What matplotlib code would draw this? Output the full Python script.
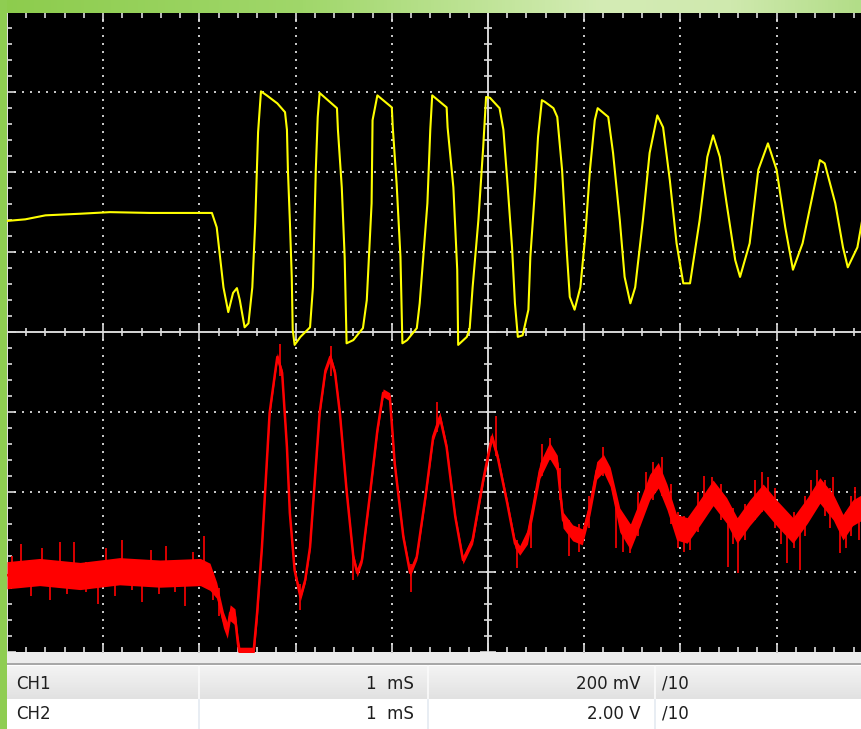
import numpy as np
import matplotlib
matplotlib.use("Agg")
import matplotlib.pyplot as plt
from matplotlib.colors import LinearSegmentedColormap
from matplotlib.collections import LineCollection
from matplotlib.patches import Rectangle

# time in ms (1 ms/div), amplitude in screen divisions (0 = centre line)
ch1_t = [0.00, 0.19, 0.40, 0.76, 1.07, 1.49, 2.13, 2.18, 2.21, 2.25, 2.30, 2.35, 2.39, 2.42,
         2.47, 2.51, 2.55, 2.58, 2.61, 2.64, 2.70, 2.81, 2.89, 2.91, 2.92, 2.94, 2.96, 2.97,
         2.99, 3.05, 3.15, 3.18, 3.21, 3.23, 3.25, 3.43, 3.44, 3.48, 3.51, 3.53, 3.60, 3.70,
         3.74, 3.79, 3.80, 3.85, 4.00, 4.01, 4.05, 4.09, 4.11, 4.16, 4.26, 4.29, 4.37, 4.40,
         4.42, 4.57, 4.58, 4.64, 4.68, 4.69, 4.78, 4.81, 4.84, 4.90, 4.95, 4.98, 5.02, 5.12,
         5.16, 5.20, 5.25, 5.28, 5.31, 5.36, 5.42, 5.44, 5.49, 5.52, 5.56, 5.59, 5.68, 5.72,
         5.77, 5.82, 5.85, 5.90, 5.96, 6.01, 6.06, 6.11, 6.14, 6.25, 6.30, 6.37, 6.42, 6.48,
         6.53, 6.61, 6.68, 6.76, 6.82, 6.89, 6.96, 7.03, 7.10, 7.20, 7.28, 7.34, 7.41, 7.48,
         7.57, 7.62, 7.72, 7.81, 7.91, 8.00, 8.09, 8.17, 8.27, 8.37, 8.45, 8.50, 8.61, 8.69,
         8.74, 8.84, 8.89]
ch1_v = [1.39, 1.41, 1.46, 1.48, 1.50, 1.49, 1.49, 1.31, 0.99, 0.56, 0.25, 0.49, 0.55, 0.40,
         0.06, 0.11, 0.56, 1.36, 2.50, 3.01, 2.96, 2.86, 2.75, 2.53, 2.03, 1.40, 0.69, 0.03,
         -0.16, -0.06, 0.06, 0.56, 2.03, 2.69, 2.99, 2.80, 2.53, 1.81, 0.94, -0.14, -0.10, 0.05,
         0.40, 1.61, 2.65, 2.96, 2.81, 2.56, 1.86, 0.94, -0.14, -0.10, 0.05, 0.36, 1.61, 2.53,
         2.96, 2.81, 2.56, 1.81, 0.78, -0.16, -0.06, 0.05, 0.56, 1.40, 2.31, 2.94, 2.93, 2.80,
         2.53, 1.90, 1.06, 0.36, -0.06, -0.04, 0.28, 0.94, 1.81, 2.44, 2.90, 2.88, 2.80, 2.69,
         2.03, 0.99, 0.44, 0.28, 0.56, 1.19, 2.03, 2.65, 2.80, 2.69, 2.24, 1.40, 0.69, 0.36,
         0.56, 1.40, 2.24, 2.71, 2.56, 1.90, 1.11, 0.61, 0.61, 1.40, 2.19, 2.46, 2.19, 1.61,
         0.90, 0.69, 1.11, 2.03, 2.36, 2.03, 1.31, 0.78, 1.11, 1.69, 2.15, 2.11, 1.61, 1.06,
         0.81, 1.06, 1.40]

ch2_t = [0.00, 0.34, 0.76, 1.17, 1.59, 2.01, 2.11, 2.18, 2.25, 2.29, 2.32, 2.37, 2.40, 2.42,
         2.56, 2.60, 2.65, 2.70, 2.73, 2.79, 2.81, 2.86, 2.91, 2.94, 2.99, 3.05, 3.10, 3.15,
         3.20, 3.25, 3.31, 3.36, 3.41, 3.46, 3.53, 3.60, 3.64, 3.69, 3.77, 3.85, 3.91, 3.98,
         4.03, 4.12, 4.19, 4.26, 4.35, 4.43, 4.50, 4.57, 4.66, 4.74, 4.84, 4.95, 5.04, 5.10,
         5.20, 5.28, 5.33, 5.41, 5.47, 5.54, 5.64, 5.72, 5.78, 5.88, 5.98, 6.06, 6.13, 6.20,
         6.27, 6.37, 6.48, 6.58, 6.68, 6.77, 6.86, 6.96, 7.07, 7.20, 7.34, 7.48, 7.59, 7.72,
         7.86, 8.00, 8.17, 8.32, 8.45, 8.59, 8.69, 8.79, 8.89]
ch2_v = [-3.04, -3.00, -3.05, -2.99, -3.02, -3.00, -3.06, -3.23, -3.60, -3.73, -3.51, -3.56,
         -3.89, -4.04, -4.04, -3.51, -2.69, -1.64, -1.01, -0.48, -0.31, -0.51, -1.44, -2.26,
         -2.98, -3.31, -3.10, -2.69, -1.85, -1.01, -0.48, -0.31, -0.51, -1.01, -1.98, -2.81,
         -3.01, -2.85, -2.06, -1.23, -0.76, -0.81, -1.64, -2.56, -3.01, -2.81, -2.06, -1.31,
         -1.06, -1.44, -2.31, -2.85, -2.60, -1.85, -1.31, -1.56, -2.14, -2.64, -2.73, -2.56,
         -2.19, -1.73, -1.48, -1.64, -2.35, -2.51, -2.56, -2.19, -1.73, -1.64, -1.81, -2.35,
         -2.56, -2.26, -1.94, -1.79, -2.06, -2.44, -2.48, -2.26, -2.01, -2.23, -2.48, -2.26,
         -2.06, -2.26, -2.48, -2.23, -1.98, -2.19, -2.44, -2.26, -2.19]
# half width of the noise band around ch2
ch2_noise = [0.17, 0.17, 0.17, 0.17, 0.17, 0.17, 0.17, 0.10, 0.10, 0.10, 0.10, 0.10, 0.10,
             0.10, 0.10, 0.10, 0.04, 0.04, 0.04, 0.04, 0.05, 0.04, 0.04, 0.04, 0.04, 0.05,
             0.04, 0.04, 0.04, 0.04, 0.04, 0.05, 0.04, 0.04, 0.04, 0.04, 0.05, 0.04, 0.04,
             0.04, 0.05, 0.05, 0.04, 0.04, 0.05, 0.04, 0.04, 0.05, 0.06, 0.05, 0.04, 0.05,
             0.05, 0.05, 0.06, 0.05, 0.05, 0.06, 0.06, 0.09, 0.09, 0.10, 0.10, 0.10, 0.10,
             0.10, 0.10, 0.10, 0.11, 0.11, 0.12, 0.15, 0.16, 0.16, 0.16, 0.16, 0.16, 0.16,
             0.16, 0.16, 0.16, 0.16, 0.16, 0.16, 0.16, 0.16, 0.16, 0.16, 0.16, 0.16, 0.16,
             0.16, 0.16]
# single noise spikes on ch2 (time, low, high)
spike_t = [0.05, 0.15, 0.25, 0.36, 0.45, 0.55, 0.62, 0.70, 0.82, 0.95, 1.03, 1.12, 1.20,
           1.30, 1.40, 1.50, 1.58, 1.65, 1.75, 1.85, 1.93, 2.05, 2.14, 2.20,
           2.84, 3.05, 3.37, 3.60, 4.47, 4.20, 5.08, 5.30,
           5.45, 5.56, 5.64, 5.75, 5.84, 5.95, 6.05, 6.20, 6.33, 6.40, 6.48, 6.56, 6.64,
           6.72, 6.81, 6.90, 6.98, 7.04, 7.10, 7.18, 7.25, 7.33, 7.42, 7.50, 7.55, 7.60,
           7.67, 7.78, 7.85, 7.91, 7.98, 8.05, 8.11, 8.18, 8.24, 8.30, 8.36, 8.42, 8.50,
           8.55, 8.59, 8.66, 8.72, 8.77, 8.81, 8.86]
spike_lo = [-3.20, -3.05, -3.30, -3.10, -3.35, -3.05, -3.28, -3.00, -3.25, -3.40, -3.05,
            -3.30, -3.00, -3.22, -3.38, -3.05, -3.28, -3.00, -3.25, -3.42, -3.10, -3.00,
            -3.35, -3.55,
            -0.55, -3.48, -0.55, -3.10, -1.25, -3.25, -1.55, -2.95,
            -2.70, -1.80, -1.60, -2.10, -2.80, -2.75, -2.45, -1.80, -2.70, -2.75, -2.76,
            -2.55, -2.20, -2.10, -2.05, -2.40, -2.70, -2.75, -2.73, -2.50, -2.30, -2.10,
            -2.35, -2.94, -2.65, -3.01, -2.60, -2.35, -2.25, -2.20, -2.45, -2.65, -2.89,
            -2.70, -2.98, -2.55, -2.30, -2.10, -2.30, -2.45, -2.30, -2.76, -2.70, -2.55,
            -2.35, -2.60]
spike_hi = [-2.80, -2.65, -2.90, -2.70, -3.00, -2.62, -2.95, -2.62, -2.88, -3.00, -2.70,
            -2.95, -2.60, -2.85, -3.00, -2.72, -2.92, -2.68, -2.85, -3.00, -2.75, -2.55,
            -3.00, -3.20,
            -0.15, -3.15, -0.18, -2.80, -0.88, -2.90, -1.05, -2.60,
            -2.35, -1.40, -1.33, -1.70, -2.35, -2.40, -2.05, -1.44, -2.20, -2.30, -2.40,
            -2.00, -1.75, -1.62, -1.56, -1.90, -2.25, -2.30, -2.30, -2.00, -1.80, -1.81,
            -1.90, -2.40, -2.20, -2.50, -2.15, -1.85, -1.75, -1.81, -1.95, -2.20, -2.35,
            -2.25, -2.40, -2.05, -1.85, -1.73, -1.85, -1.95, -1.81, -2.40, -2.25, -2.05,
            -1.94, -2.15]

channels = ["CH1", "CH2"]
time_base = ["1  mS", "1  mS"]
volts_div = ["200 mV", "2.00 V"]
probe = ["/10", "/10"]

W, H = 862, 729
fig = plt.figure(figsize=(W / 100, H / 100), dpi=100)

# window chrome, drawn in pixel coordinates
bg = fig.add_axes([0, 0, 1, 1])
bg.axis("off")
green = LinearSegmentedColormap.from_list(
    "g", [(0, "#8dcc4d"), (0.35, "#a0d76a"), (0.7, "#d4ecb5"), (0.85, "#cfe9ae"), (1, "#b2dd88")])
bg.imshow(np.linspace(0, 1, 256)[None, :], extent=(0, W, 14, 0), aspect="auto", cmap=green)
bg.add_patch(Rectangle((0, 0), 7, H, color="#8fcd52", lw=0))
bg.add_patch(Rectangle((7, 652), W - 7, 12, color="#ececec", lw=0))
bg.add_patch(Rectangle((7, 663), W - 7, 2, color="#a8a8a8", lw=0))
grey = LinearSegmentedColormap.from_list("r", ["#f4f4f4", "#e1e1e1"])
bg.imshow(np.linspace(0, 1, 64)[:, None], extent=(7, W, 699, 666), aspect="auto", cmap=grey)
bg.add_patch(Rectangle((7, 699), W - 7, H - 699, color="white", lw=0))
for sx in [199, 428, 655]:
    bg.plot([sx, sx], [666, 699], color="#fbfbfb", lw=1.2)
    bg.plot([sx, sx], [700, H], color="#e4eaf1", lw=1.2)
bg.set_xlim(0, W)
bg.set_ylim(H, 0)

row_y = [684, 714]
for i in range(2):
    kw = dict(va="center", fontsize=12, color="#1e1e1e")
    bg.text(16, row_y[i], channels[i], ha="left", **kw)
    bg.text(414, row_y[i], time_base[i], ha="right", **kw)
    bg.text(641, row_y[i], volts_div[i], ha="right", **kw)
    bg.text(662, row_y[i], probe[i], ha="left", **kw)

# scope screen
ax = fig.add_axes([7 / W, (H - 652) / H, (W - 7) / W, 639 / H])
ax.set_facecolor("black")
for s in ax.spines.values():
    s.set_visible(False)
ax.set_xticks([])
ax.set_yticks([])
xmax = (W - 7) / 96.2
ax.set_xlim(0, xmax)
ax.set_ylim(-4, 3.99)

px_x = 1 / 96.2   # one pixel in ms
px_y = 1 / 80.0   # one pixel in div
dot_c = "#c4c4c4"

# dotted graticule
dx, dy = [], []
for gx in range(1, 9):
    if gx == 5:
        continue
    ys = np.arange(-4, 4, 8 * px_y)
    dx += [gx] * len(ys)
    dy += list(ys)
for gy in range(-3, 4):
    if gy == 0:
        continue
    xs = np.arange(0, xmax, 8 * px_x)
    dx += list(xs)
    dy += [gy] * len(xs)
ax.scatter(dx, dy, s=2.2, marker="s", color=dot_c, linewidths=0, zorder=1)

# centre axes and tick marks
ax.axhline(0, color="#d6d6d6", lw=1.4, zorder=2)
ax.axvline(5, color="#d6d6d6", lw=1.4, zorder=2)
ax.axvline(0.5 * px_x, color="#e8e8e8", lw=1.4, zorder=2)
segs = []
for k in range(0, int(xmax / 0.2) + 1):
    x = k * 0.2
    big = abs(x - round(x)) < 1e-6
    h = (8 if big else 4) * px_y
    segs.append([(x, -h), (x, h)])
    segs.append([(x, 3.99), (x, 3.99 - (9 if big else 5) * px_y)])
    segs.append([(x, -4), (x, -4 + (9 if big else 5) * px_y)])
for k in range(-20, 21):
    y = k * 0.2
    big = abs(y - round(y)) < 1e-6
    w = (8 if big else 4) * px_x
    segs.append([(5 - w, y), (5 + w, y)])
    segs.append([(0, y), ((9 if big else 5) * px_x, y)])
ax.add_collection(LineCollection(segs, colors="#dcdcdc", linewidths=1.2, zorder=2))

# traces
ax.plot(ch1_t, ch1_v, color="#ffff00", lw=1.5, zorder=4)
lo = np.array(ch2_v) - np.array(ch2_noise)
hi = np.array(ch2_v) + np.array(ch2_noise)
ax.fill_between(ch2_t, lo, hi, color="#ff0000", lw=0, zorder=3)
ax.plot(ch2_t, ch2_v, color="#ff0000", lw=1.8, zorder=3)
ax.vlines(spike_t, spike_lo, spike_hi, color="#ff0000", lw=1.2, zorder=3)

fig.savefig("out.png", dpi=100)
